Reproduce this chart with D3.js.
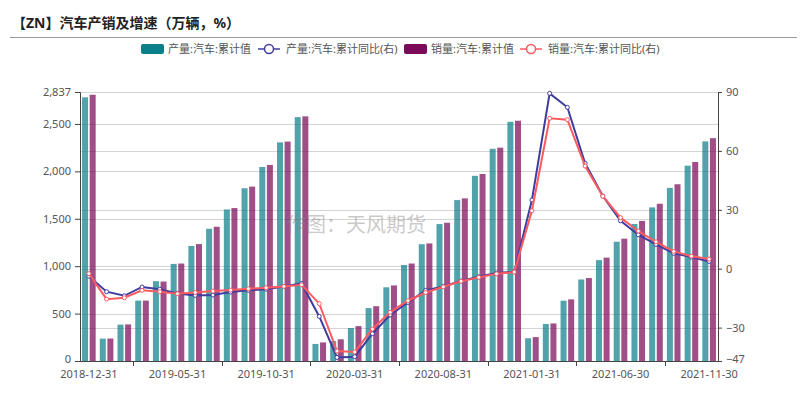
<!DOCTYPE html>
<html>
<head>
<meta charset="utf-8">
<script src="https://cdn.jsdelivr.net/npm/d3@7"></script>
<style>
  body { margin: 0; background: #fff; }
  svg { font-family: 'Noto Sans', 'Noto Sans CJK SC', sans-serif; }
</style>
</head>
<body>
<svg id="chart" width="807" height="414"></svg>
<script>
const dates = [
  '2018-12-31', '2019-01-31', '2019-02-28', '2019-03-31', '2019-04-30', '2019-05-31',
  '2019-06-30', '2019-07-31', '2019-08-31', '2019-09-30', '2019-10-31', '2019-11-30',
  '2019-12-31', '2020-01-31', '2020-02-29', '2020-03-31', '2020-04-30', '2020-05-31',
  '2020-06-30', '2020-07-31', '2020-08-31', '2020-09-30', '2020-10-31', '2020-11-30',
  '2020-12-31', '2021-01-31', '2021-02-28', '2021-03-31', '2021-04-30', '2021-05-31',
  '2021-06-30', '2021-07-31', '2021-08-31', '2021-09-30', '2021-10-31', '2021-11-30'
];

// 累计值 (万辆)
const prodCum = [2781, 236, 384, 637, 842, 1024, 1213, 1394, 1598, 1822, 2046, 2306,
  2572, 180, 211, 348, 558, 777, 1012, 1232, 1444, 1697, 1953, 2238,
  2523, 240, 390, 636, 860, 1064, 1258, 1445, 1620, 1826, 2060, 2316];
const salesCum = [2808, 237, 386, 637, 838, 1028, 1233, 1416, 1613, 1839, 2068, 2314,
  2580, 196, 229, 368, 578, 797, 1028, 1240, 1458, 1715, 1972, 2250,
  2534, 252, 396, 650, 875, 1090, 1290, 1477, 1658, 1864, 2099, 2350];

// 累计同比 (%)
const prodYoy = [-3.8, -11.7, -13.8, -9.3, -10.4, -12.6, -13.6, -13.4, -11.9, -11.0, -10.4, -9.0,
  -7.5, -24.3, -45.2, -44.8, -33.1, -23.6, -17.2, -11.0, -9.0, -6.3, -4.1, -2.2,
  -1.5, 35.0, 89.3, 82.2, 53.7, 37.0, 24.4, 17.3, 12.4, 7.8, 5.9, 3.7];
const salesYoy = [-2.5, -15.5, -14.8, -11.0, -11.7, -12.7, -12.1, -11.4, -10.9, -10.2, -9.7, -9.0,
  -8.2, -17.8, -41.9, -42.4, -30.7, -22.2, -16.3, -12.1, -9.2, -6.4, -4.4, -2.6,
  -1.7, 29.5, 76.6, 75.9, 52.3, 36.9, 26.0, 19.2, 13.7, 8.8, 6.4, 4.9];

const leftTicks = [0, 500, 1000, 1500, 2000, 2500, 2837];
const rightTicks = [-47, -30, 0, 30, 60, 90];
const labelEvery = 5;

const legendNames = ['产量:汽车:累计值', '产量:汽车:累计同比(右)', '销量:汽车:累计值', '销量:汽车:累计同比(右)'];
const colors = { prod: '#0c7f8b', sales: '#7a0a5a', prodLine: '#3f3d9e', salesLine: '#ff5a60' };

const svg = d3.select('#chart');
const plotLeft = 80, plotRight = 718, plotTop = 92, plotBottom = 361;

const x = d3.scaleBand().domain(dates).range([plotLeft, plotRight]);
const inner = d3.scaleBand().domain(['prod', 'sales']).range([0, x.step()])
  .paddingInner(0.21).paddingOuter(0.27);
const yL = d3.scaleLinear().domain([0, 2837]).range([plotBottom, plotTop]);
const yR = d3.scaleLinear().domain([-47, 90]).range([plotBottom, plotTop]);

// title
svg.append('text')
  .attr('x', 12).attr('y', 28)
  .attr('font-size', 14).attr('font-weight', 'bold').attr('fill', '#222')
  .text('【ZN】汽车产销及增速（万辆，%）');
svg.append('line')
  .attr('x1', 10).attr('x2', 797).attr('y1', 37.5).attr('y2', 37.5)
  .attr('stroke', '#999').attr('stroke-width', 1);

// gridlines from both axes
const grid = svg.append('g').attr('stroke', '#d4d4d4').attr('stroke-width', 1);
leftTicks.forEach((t) => {
  grid.append('line').attr('x1', plotLeft).attr('x2', plotRight)
    .attr('y1', Math.round(yL(t)) + 0.5).attr('y2', Math.round(yL(t)) + 0.5);
});
rightTicks.forEach((t) => {
  grid.append('line').attr('x1', plotLeft).attr('x2', plotRight)
    .attr('y1', Math.round(yR(t)) + 0.5).attr('y2', Math.round(yR(t)) + 0.5);
});

// bars
const barData = [];
dates.forEach((d, i) => {
  barData.push({ date: d, key: 'prod', value: prodCum[i] });
  barData.push({ date: d, key: 'sales', value: salesCum[i] });
});
svg.append('g').selectAll('rect')
  .data(barData)
  .enter()
  .append('rect')
  .attr('x', (d) => x(d.date) + inner(d.key))
  .attr('width', inner.bandwidth())
  .attr('y', (d) => yL(d.value))
  .attr('height', (d) => plotBottom - yL(d.value))
  .attr('fill', (d) => colors[d.key])
  .attr('fill-opacity', 0.72);

// watermark
svg.append('text')
  .attr('x', 356).attr('y', 232)
  .attr('text-anchor', 'middle')
  .attr('font-size', 20).attr('fill', '#888').attr('fill-opacity', 0.45)
  .text('作图：天风期货');

// yoy lines
const cx = (d, i) => x(dates[i]) + x.bandwidth() / 2;
const lineSeries = [
  { values: prodYoy, color: colors.prodLine },
  { values: salesYoy, color: colors.salesLine }
];
lineSeries.forEach((s) => {
  const line = d3.line().x(cx).y((d) => yR(d));
  svg.append('path')
    .datum(s.values)
    .attr('d', line)
    .attr('fill', 'none')
    .attr('stroke', s.color)
    .attr('stroke-width', 2);
  svg.append('g').selectAll('circle')
    .data(s.values)
    .enter()
    .append('circle')
    .attr('cx', cx)
    .attr('cy', (d) => yR(d))
    .attr('r', 2)
    .attr('fill', '#fff')
    .attr('stroke', s.color)
    .attr('stroke-width', 1);
});

// axes
const axisColor = '#444';
const labelColor = '#555';

const leftAxis = svg.append('g')
  .attr('transform', `translate(${plotLeft},0)`)
  .call(d3.axisLeft(yL).tickValues(leftTicks).tickFormat(d3.format(',')).tickSize(5).tickPadding(4));
const rightAxis = svg.append('g')
  .attr('transform', `translate(${plotRight},0)`)
  .call(d3.axisRight(yR).tickValues(rightTicks).tickSize(4).tickPadding(4));

const xTickPos = dates.map((d, i) => i).filter((i) => i % labelEvery === 3);
const bottomAxis = svg.append('g')
  .attr('transform', `translate(0,${plotBottom})`)
  .call(d3.axisBottom(x)
    .tickValues(dates.filter((d, i) => i % labelEvery === 0))
    .tickSize(0).tickPadding(9));

// x ticks between labels, on category boundaries
xTickPos.forEach((i) => {
  svg.append('line')
    .attr('x1', Math.round(x(dates[i])) + 0.5).attr('x2', Math.round(x(dates[i])) + 0.5)
    .attr('y1', plotBottom).attr('y2', plotBottom + 5)
    .attr('stroke', axisColor);
});

[leftAxis, rightAxis, bottomAxis].forEach((g) => {
  g.select('.domain').attr('stroke', axisColor);
  g.selectAll('.tick line').attr('stroke', axisColor);
  g.selectAll('.tick text')
    .attr('fill', labelColor)
    .attr('font-size', 11)
    .attr('font-family', "'Noto Sans', 'Noto Sans CJK SC', sans-serif");
});

// lift the lowest y labels a touch so they clear the date labels
[leftAxis, rightAxis].forEach((g) => {
  g.selectAll('.tick text')
    .filter((d) => d === 0 && g === leftAxis || d === -47)
    .attr('dy', '0.15em');
});

// legend
const legendItems = [
  { name: legendNames[0], type: 'rect', color: colors.prod, x: 141 },
  { name: legendNames[1], type: 'line', color: colors.prodLine, x: 258 },
  { name: legendNames[2], type: 'rect', color: colors.sales, x: 404 },
  { name: legendNames[3], type: 'line', color: colors.salesLine, x: 520 }
];
const legend = svg.append('g');
legendItems.forEach((item) => {
  const g = legend.append('g').attr('transform', `translate(${item.x},49)`);
  if (item.type === 'rect') {
    g.append('rect')
      .attr('x', 0).attr('y', -5).attr('width', 23).attr('height', 10)
      .attr('rx', 2).attr('fill', item.color);
  } else {
    g.append('line')
      .attr('x1', 0).attr('x2', 22).attr('y1', 0).attr('y2', 0)
      .attr('stroke', item.color).attr('stroke-width', 1.5);
    g.append('circle')
      .attr('cx', 11).attr('cy', 0).attr('r', 4.5)
      .attr('fill', '#fff').attr('stroke', item.color).attr('stroke-width', 1.5);
  }
  g.append('text')
    .attr('x', item.type === 'rect' ? 27 : 28)
    .attr('y', 4)
    .attr('font-size', 11)
    .attr('fill', '#555')
    .text(item.name);
});
</script>
</body>
</html>
